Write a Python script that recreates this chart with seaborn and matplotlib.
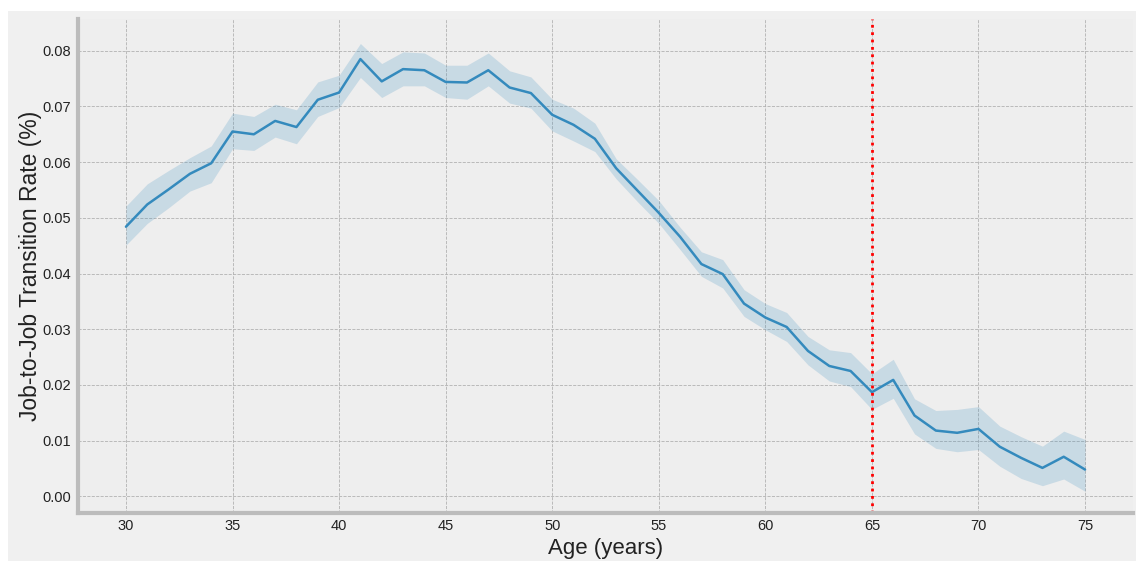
import numpy as np
import pandas as pd
import matplotlib
matplotlib.use("Agg")
import matplotlib.pyplot as plt
import seaborn as sns
from matplotlib.patches import Rectangle

# ---------- data ----------
ages = list(range(30, 76))

rate = [0.0484, 0.0524, 0.0551, 0.0579, 0.0598, 0.0655, 0.0650, 0.0674, 0.0663, 0.0712,
        0.0725, 0.0785, 0.0745, 0.0767, 0.0765, 0.0744, 0.0743, 0.0765, 0.0734, 0.0724,
        0.0685, 0.0667, 0.0642, 0.0589, 0.0549, 0.0509, 0.0466, 0.0417, 0.0399, 0.0346,
        0.0321, 0.0304, 0.0261, 0.0234, 0.0225, 0.0187, 0.0209, 0.0145, 0.0118, 0.0114,
        0.0121, 0.0089, 0.0069, 0.0051, 0.0071, 0.0048]

upper = [0.0521, 0.0561, 0.0585, 0.0608, 0.0629, 0.0688, 0.0682, 0.0704, 0.0694, 0.0744,
         0.0756, 0.0813, 0.0777, 0.0798, 0.0796, 0.0774, 0.0774, 0.0796, 0.0764, 0.0753,
         0.0713, 0.0697, 0.0670, 0.0606, 0.0569, 0.0531, 0.0483, 0.0439, 0.0425, 0.0371,
         0.0346, 0.0330, 0.0287, 0.0263, 0.0258, 0.0220, 0.0246, 0.0175, 0.0154, 0.0156,
         0.0161, 0.0126, 0.0107, 0.0090, 0.0117, 0.0102]

lower = [0.0451, 0.0490, 0.0518, 0.0548, 0.0563, 0.0624, 0.0621, 0.0645, 0.0633, 0.0682,
         0.0698, 0.0752, 0.0716, 0.0737, 0.0737, 0.0716, 0.0713, 0.0737, 0.0706, 0.0697,
         0.0656, 0.0638, 0.0619, 0.0570, 0.0529, 0.0490, 0.0443, 0.0395, 0.0374, 0.0323,
         0.0299, 0.0278, 0.0236, 0.0207, 0.0197, 0.0156, 0.0176, 0.0112, 0.0086, 0.0080,
         0.0084, 0.0054, 0.0032, 0.0019, 0.0031, 0.0009]

cutoff_age = 65
xticks = [30, 35, 40, 45, 50, 55, 60, 65, 70, 75]
yticks = [0.00, 0.01, 0.02, 0.03, 0.04, 0.05, 0.06, 0.07, 0.08]

df = pd.DataFrame({"age": ages, "rate": rate, "lo": lower, "hi": upper})

# ---------- style ----------
sns.set_theme(style="darkgrid", rc={
    "axes.facecolor": "#eeeeee",
    "axes.edgecolor": "#bcbcbc",
    "axes.linewidth": 3.0,
    "grid.color": "#b2b2b2",
    "grid.linestyle": "--",
    "grid.linewidth": 0.6,
    "xtick.bottom": False,
    "ytick.left": False,
})
plt.rcParams["font.family"] = ["Liberation Sans", "DejaVu Sans"]

line_col = "#348ABD"

fig = plt.figure(figsize=(11.36, 5.61), dpi=100, facecolor="white")
fig.patches.append(Rectangle((8 / 1136, 0), 1, 550 / 561, transform=fig.transFigure,
                             facecolor="#f0f0f0", edgecolor="none", zorder=-10))
ax = fig.add_axes([78 / 1136, 48 / 561, 1055 / 1136, 494 / 561])

ax.fill_between(df["age"], df["lo"], df["hi"], color=line_col, alpha=0.2, linewidth=0)
sns.lineplot(data=df, x="age", y="rate", color=line_col, linewidth=1.8, ax=ax)
ax.axvline(cutoff_age, color="red", linestyle=":", linewidth=2)

ax.set_xlim(27.75, 77.25)
ax.set_ylim(-0.003, 0.0857)
ax.set_xticks(xticks)
ax.set_yticks(yticks)
ax.set_yticklabels([f"{v:.2f}" for v in yticks])
ax.tick_params(axis="both", length=0, labelsize=10.5, colors="#222222")
ax.tick_params(axis="x", pad=4)
ax.tick_params(axis="y", pad=5)

ax.set_xlabel("Age (years)", fontsize=16, color="#222222", labelpad=4)
ax.set_ylabel("Job-to-Job Transition Rate (%)", fontsize=16.5, color="#222222", labelpad=0)

ax.spines["top"].set_visible(False)
ax.spines["right"].set_visible(False)

fig.savefig("out.png", dpi=100, facecolor=fig.get_facecolor())
plt.close()
